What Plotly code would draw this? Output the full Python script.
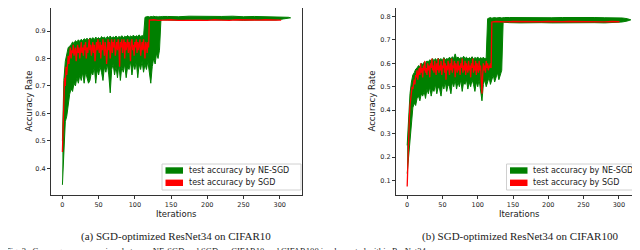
import plotly.graph_objects as go

# ---------------- data: CIFAR10 (left) ----------------
c10_red_x = list(range(0, 120)) + [120, 126, 132, 140, 150, 160, 170, 180, 190, 200, 210, 220, 230, 240, 250, 260, 270, 280, 290, 300, 302]
c10_red_y = [0.46, 0.55, 0.66, 0.73, 0.70, 0.77, 0.74, 0.79, 0.81, 0.78,
             0.82, 0.84, 0.80, 0.83, 0.82, 0.85, 0.81, 0.83, 0.84, 0.79,
             0.83, 0.85, 0.82, 0.84, 0.80, 0.83, 0.86, 0.82, 0.84, 0.81,
             0.85, 0.83, 0.86, 0.80, 0.84, 0.82, 0.85, 0.87, 0.83, 0.85,
             0.81, 0.84, 0.86, 0.82, 0.85, 0.79, 0.84, 0.86, 0.83, 0.87,
             0.84, 0.82, 0.86, 0.80, 0.85, 0.83, 0.87, 0.84, 0.81, 0.86,
             0.84, 0.78, 0.85, 0.87, 0.83, 0.86, 0.80, 0.85, 0.87, 0.82,
             0.86, 0.84, 0.87, 0.81, 0.85, 0.86, 0.83, 0.87, 0.84, 0.77,
             0.86, 0.84, 0.87, 0.82, 0.85, 0.87, 0.80, 0.86, 0.83, 0.85,
             0.87, 0.82, 0.86, 0.84, 0.79, 0.86, 0.87, 0.83, 0.85, 0.81,
             0.86, 0.84, 0.87, 0.82, 0.86, 0.83, 0.85, 0.87, 0.81, 0.85,
             0.86, 0.83, 0.87, 0.84, 0.80, 0.86, 0.85, 0.82, 0.86, 0.84,
             0.940, 0.941, 0.939, 0.940, 0.941, 0.939, 0.940, 0.941, 0.940, 0.939,
             0.941, 0.940, 0.939, 0.941, 0.940, 0.939, 0.940, 0.941, 0.940, 0.939, 0.940]

c10_green_x = list(range(0, 140, 2)) + [145, 160, 175, 190, 205, 220, 235, 250, 265, 280, 295, 305, 312, 315]
c10_green_hi = [0.50, 0.72, 0.79, 0.82, 0.84, 0.845, 0.85, 0.86, 0.855, 0.865,
                0.86, 0.868, 0.862, 0.87, 0.865, 0.872, 0.868, 0.874, 0.866, 0.875,
                0.87, 0.876, 0.868, 0.878, 0.872, 0.876, 0.87, 0.88, 0.874, 0.878,
                0.872, 0.88, 0.875, 0.882, 0.874, 0.879, 0.876, 0.882, 0.875, 0.88,
                0.877, 0.883, 0.876, 0.881, 0.878, 0.884, 0.877, 0.882, 0.879, 0.885,
                0.878, 0.883, 0.88, 0.886, 0.879, 0.884, 0.88, 0.95, 0.952, 0.953,
                0.951, 0.953, 0.952, 0.954, 0.952, 0.953, 0.951, 0.953, 0.952, 0.953,
                0.953, 0.952, 0.954, 0.953, 0.952, 0.953, 0.954, 0.952, 0.953, 0.952,
                0.953, 0.951, 0.950, 0.948]
c10_green_lo = [0.34, 0.47, 0.57, 0.59, 0.64, 0.67, 0.69, 0.68, 0.71, 0.70,
                0.73, 0.71, 0.74, 0.72, 0.75, 0.71, 0.75, 0.73, 0.71, 0.72,
                0.75, 0.74, 0.77, 0.71, 0.76, 0.74, 0.77, 0.75, 0.72, 0.77,
                0.75, 0.78, 0.74, 0.675, 0.76, 0.78, 0.74, 0.77, 0.73, 0.78,
                0.72, 0.77, 0.75, 0.78, 0.73, 0.77, 0.76, 0.79, 0.74, 0.78,
                0.76, 0.79, 0.73, 0.78, 0.76, 0.79, 0.75, 0.78, 0.76, 0.79,
                0.74, 0.71, 0.77, 0.80, 0.78, 0.82, 0.80, 0.83, 0.94, 0.941,
                0.940, 0.939, 0.941, 0.940, 0.939, 0.940, 0.941, 0.939, 0.940, 0.939,
                0.940, 0.944, 0.946, 0.948]

# ---------------- data: CIFAR100 (right) ----------------
c100_red_x = list(range(0, 120)) + [120, 126, 132, 140, 150, 160, 170, 180, 190, 200, 210, 220, 230, 240, 250, 260, 270, 280, 290, 300, 301]
c100_red_y = [0.075, 0.21, 0.30, 0.36, 0.42, 0.45, 0.47, 0.50, 0.49, 0.52,
              0.53, 0.51, 0.55, 0.54, 0.57, 0.53, 0.56, 0.58, 0.55, 0.60,
              0.56, 0.58, 0.54, 0.59, 0.57, 0.61, 0.56, 0.58, 0.55, 0.60,
              0.57, 0.59, 0.54, 0.60, 0.58, 0.62, 0.57, 0.59, 0.56, 0.61,
              0.58, 0.55, 0.60, 0.57, 0.62, 0.56, 0.59, 0.57, 0.61, 0.55,
              0.59, 0.58, 0.62, 0.56, 0.60, 0.53, 0.59, 0.57, 0.61, 0.58,
              0.55, 0.60, 0.57, 0.62, 0.56, 0.59, 0.58, 0.61, 0.54, 0.60,
              0.58, 0.56, 0.61, 0.57, 0.59, 0.55, 0.60, 0.58, 0.62, 0.56,
              0.59, 0.57, 0.61, 0.55, 0.60, 0.58, 0.56, 0.61, 0.57, 0.59,
              0.54, 0.60, 0.58, 0.62, 0.56, 0.59, 0.57, 0.61, 0.55, 0.60,
              0.58, 0.56, 0.61, 0.57, 0.59, 0.52, 0.47, 0.55, 0.60, 0.57,
              0.59, 0.56, 0.61, 0.58, 0.60, 0.57, 0.59, 0.58, 0.60, 0.58,
              0.776, 0.778, 0.777, 0.776, 0.778, 0.777, 0.779, 0.776, 0.777, 0.778,
              0.776, 0.777, 0.778, 0.777, 0.776, 0.778, 0.777, 0.776, 0.778, 0.777, 0.777]

c100_green_x = list(range(0, 140, 2)) + [145, 160, 175, 190, 205, 220, 235, 250, 265, 280, 295, 305, 312, 317]
c100_green_hi = [0.25, 0.38, 0.47, 0.52, 0.55, 0.56, 0.575, 0.58, 0.59, 0.585,
                 0.60, 0.595, 0.605, 0.60, 0.61, 0.605, 0.615, 0.61, 0.62, 0.61,
                 0.62, 0.612, 0.622, 0.615, 0.62, 0.613, 0.625, 0.615, 0.62, 0.617,
                 0.626, 0.618, 0.628, 0.62, 0.64, 0.62, 0.627, 0.618, 0.625, 0.62,
                 0.63, 0.62, 0.626, 0.618, 0.624, 0.62, 0.628, 0.617, 0.625, 0.62,
                 0.627, 0.618, 0.624, 0.62, 0.626, 0.618, 0.625, 0.79, 0.793, 0.795,
                 0.792, 0.794, 0.795, 0.793, 0.794, 0.792, 0.795, 0.793, 0.794, 0.795,
                 0.795, 0.794, 0.796, 0.795, 0.794, 0.795, 0.796, 0.794, 0.795, 0.794,
                 0.795, 0.793, 0.790, 0.785]
c100_green_lo = [0.13, 0.20, 0.30, 0.37, 0.41, 0.43, 0.42, 0.45, 0.46, 0.44,
                 0.47, 0.46, 0.48, 0.45, 0.49, 0.47, 0.50, 0.46, 0.49, 0.48,
                 0.51, 0.47, 0.50, 0.49, 0.46, 0.51, 0.49, 0.52, 0.48, 0.51,
                 0.50, 0.47, 0.52, 0.50, 0.53, 0.49, 0.52, 0.50, 0.53, 0.48,
                 0.52, 0.51, 0.53, 0.49, 0.52, 0.50, 0.53, 0.51, 0.48, 0.52,
                 0.50, 0.53, 0.49, 0.44, 0.51, 0.53, 0.50, 0.52, 0.54, 0.51,
                 0.53, 0.55, 0.52, 0.54, 0.56, 0.53, 0.55, 0.57, 0.775, 0.774,
                 0.773, 0.772, 0.774, 0.773, 0.772, 0.773, 0.774, 0.772, 0.773, 0.772,
                 0.773, 0.776, 0.780, 0.785]

# ---------------- text ----------------
legend_ne = "test accuracy by NE-SGD"
legend_sgd = "test accuracy by SGD"
x_title = "Iterations"
y_title = "Accuracy Rate"
cap_a = "(a) SGD-optimized ResNet34 on CIFAR10"
cap_b = "(b) SGD-optimized ResNet34 on CIFAR100"
fig_caption = "Fig. 3.  Convergence comparison between NE-SGD and SGD on CIFAR10 and CIFAR100 implemented within ResNet34."
x_ticks = [0, 50, 100, 150, 200, 250, 300]
y_ticks_a = [0.4, 0.5, 0.6, 0.7, 0.8, 0.9]
y_ticks_b = [0.1, 0.2, 0.3, 0.4, 0.5, 0.6, 0.7, 0.8]

GREEN = "#008000"
RED = "#ff0000"
W, H = 640, 250
FONT = "DejaVu Sans"

fig = go.Figure()

def add_panel(xa, ya, gx, glo, ghi, rx, ry):
    fig.add_trace(go.Scatter(x=gx, y=glo, mode="lines", line=dict(color=GREEN, width=1),
                             showlegend=False, xaxis=xa, yaxis=ya, hoverinfo="skip"))
    fig.add_trace(go.Scatter(x=gx, y=ghi, mode="lines", fill="tonexty", fillcolor=GREEN,
                             line=dict(color=GREEN, width=1), showlegend=False,
                             xaxis=xa, yaxis=ya, hoverinfo="skip"))
    fig.add_trace(go.Scatter(x=rx, y=ry, mode="lines", line=dict(color=RED, width=1.3),
                             showlegend=False, xaxis=xa, yaxis=ya, hoverinfo="skip"))

add_panel("x", "y", c10_green_x, c10_green_lo, c10_green_hi, c10_red_x, c10_red_y)
add_panel("x2", "y2", c100_green_x, c100_green_lo, c100_green_hi, c100_red_x, c100_red_y)

ydom = [1 - 187 / H, 1.0]
axis_common = dict(showline=True, linecolor="#333", linewidth=1, mirror=True, ticks="outside",
                   ticklen=3, tickcolor="#333", showgrid=False, zeroline=False,
                   tickfont=dict(family=FONT, size=6.5, color="#222"))

fig.update_layout(
    width=W, height=H, margin=dict(l=0, r=0, t=0, b=0),
    paper_bgcolor="white", plot_bgcolor="white", showlegend=False,
    xaxis=dict(domain=[43 / W, 294 / W], range=[-15.75, 330.75], tickvals=x_ticks, anchor="y", **axis_common),
    yaxis=dict(domain=ydom, range=[0.3031, 0.9838], tickvals=y_ticks_a, tickformat=".1f", anchor="x", **axis_common),
    xaxis2=dict(domain=[388 / W, 634 / W], range=[-15.85, 332.85], tickvals=x_ticks, anchor="y2", **axis_common),
    yaxis2=dict(domain=ydom, range=[0.0386, 0.8355], tickvals=y_ticks_b, tickformat=".1f", anchor="x2", **axis_common),
)

def px(x):
    return x / W

def py(y):
    return 1 - y / H

def add_legend(box_l, box_r):
    fig.add_shape(type="rect", xref="paper", yref="paper", x0=px(box_l), x1=px(box_r),
                  y0=py(182), y1=py(156), fillcolor="white", line=dict(color="#d0d0d0", width=1))
    for (yc, col, lab) in [(162.5, GREEN, legend_ne), (174.8, RED, legend_sgd)]:
        fig.add_shape(type="rect", xref="paper", yref="paper", x0=px(box_l + 3.5), x1=px(box_l + 21),
                      y0=py(yc + 3.2), y1=py(yc - 3.2), fillcolor=col, line=dict(width=0))
        fig.add_annotation(xref="paper", yref="paper", x=px(box_l + 25.5), y=py(yc), xanchor="left",
                           yanchor="middle", showarrow=False, text=lab, borderpad=0,
                           font=dict(family=FONT, size=8, color="#222"))

add_legend(154, 293)
add_legend(498.5, 633.5)

ann_font = dict(family=FONT, size=8.5, color="#222")
cap_font = dict(family="Liberation Serif", size=11, color="#222")
anns = [
    dict(text=x_title, x=168.5 / W, y=1 - 206 / H, font=ann_font),
    dict(text=x_title, x=511 / W, y=1 - 206 / H, font=ann_font),
    dict(text=y_title, x=20 / W, y=1 - 93.5 / H, textangle=-90, font=ann_font),
    dict(text=y_title, x=363 / W, y=1 - 93.5 / H, textangle=-90, font=ann_font),
    dict(text=cap_a, x=168 / W, y=1 - 228 / H, font=cap_font),
    dict(text=cap_b, x=512 / W, y=1 - 228 / H, font=cap_font),
]
for a in anns:
    fig.add_annotation(xref="paper", yref="paper", xanchor="center", yanchor="middle",
                       showarrow=False, **a)
fig.add_annotation(xref="paper", yref="paper", x=-3 / W, y=1 - 243 / H, xanchor="left", yanchor="middle",
                   showarrow=False, text=fig_caption, borderpad=0,
                   font=dict(family="Liberation Serif", size=8.6, color="#222"))

fig.write_html("out.html")
